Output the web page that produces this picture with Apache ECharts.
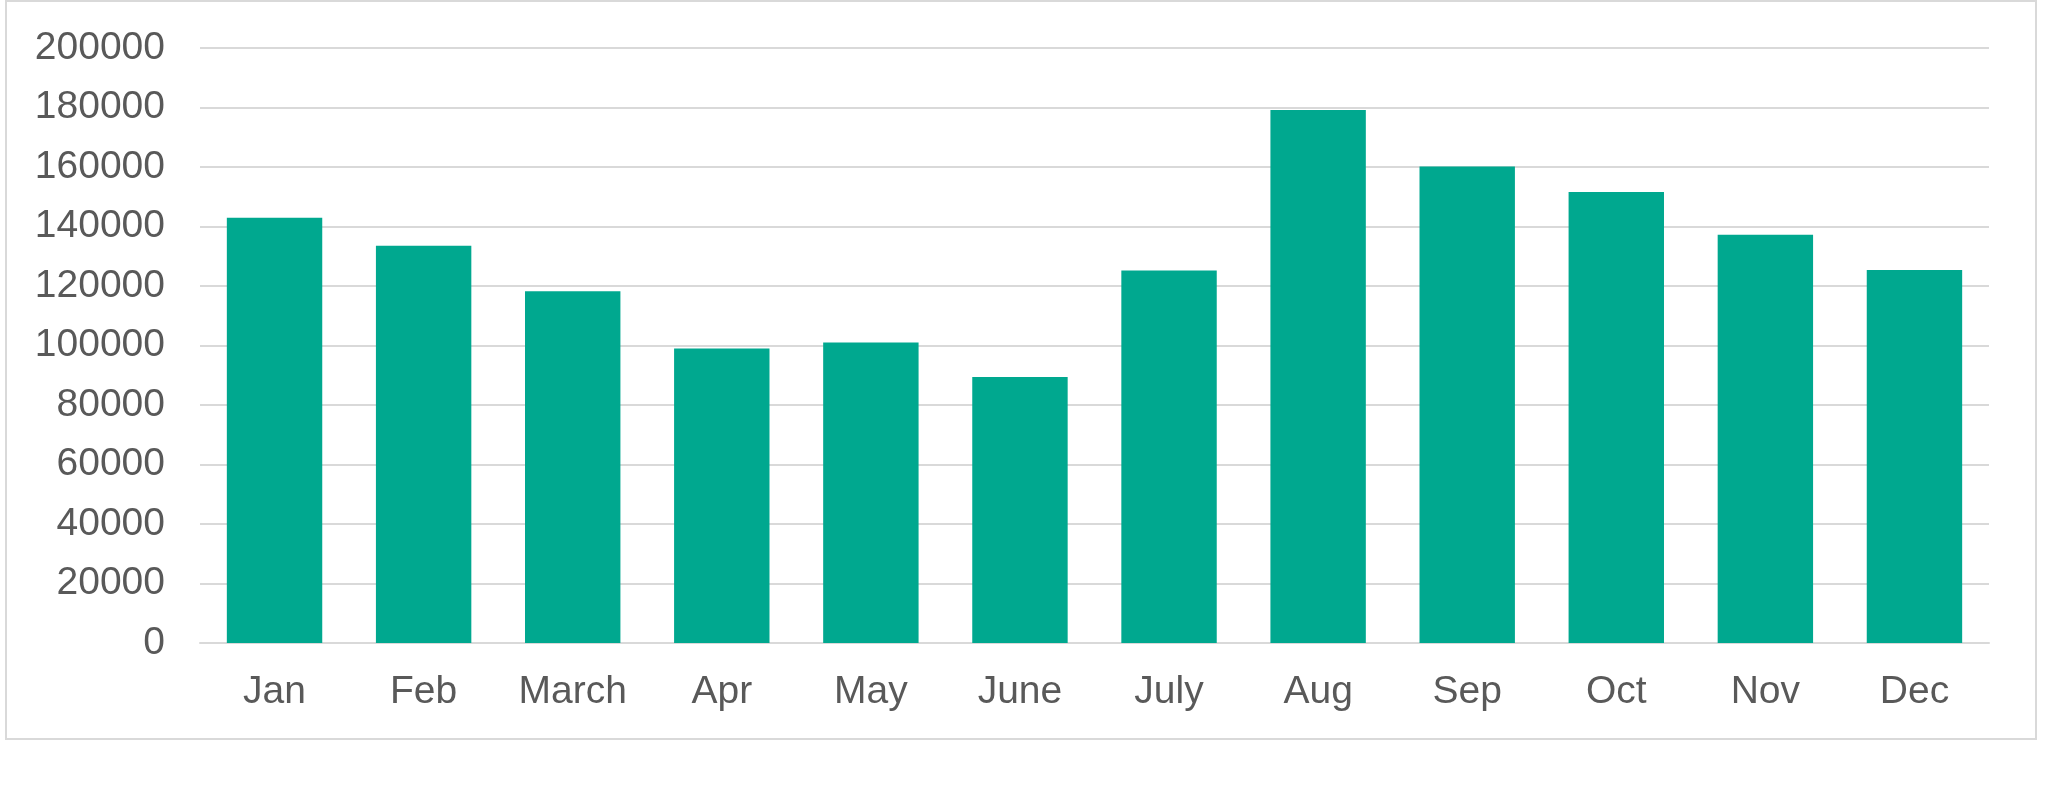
<!DOCTYPE html>
<html>
<head>
<meta charset="utf-8">
<script src="https://cdn.jsdelivr.net/npm/echarts@6/dist/echarts.min.js"></script>
<style>
html,body{margin:0;padding:0;background:#fff;}
#chart{width:2048px;height:786px;}
</style>
</head>
<body>
<div id="chart"></div>
<script>
const categories = ['Jan','Feb','March','Apr','May','June','July','Aug','Sep','Oct','Nov','Dec'];
const values = [142900, 133500, 118200, 99000, 101000, 89400, 125200, 179200, 160200, 151600, 137200, 125400];
const yMin = 0, yMax = 200000, yInterval = 20000;

const chart = echarts.init(document.getElementById('chart'), null, {renderer:'canvas'});
chart.setOption({
  animation:false,
  backgroundColor:'#ffffff',
  graphic:[{
    type:'rect',
    shape:{x:6,y:1,width:2030,height:738},
    style:{fill:'none',stroke:'#d9d9d9',lineWidth:2},
    silent:true
  }],
  grid:{left:200,right:59,top:48,bottom:143,containLabel:false},
  xAxis:{
    type:'category',
    data:categories,
    axisLine:{show:true,lineStyle:{color:'#d9d9d9',width:2}},
    axisTick:{show:false},
    axisLabel:{color:'#595959',fontSize:39,fontFamily:'Liberation Sans, Arial, sans-serif',margin:30}
  },
  yAxis:{
    type:'value',
    min:yMin,max:yMax,interval:yInterval,
    axisLine:{show:false},
    axisTick:{show:false},
    splitLine:{lineStyle:{color:'#d9d9d9',width:2}},
    axisLabel:{color:'#595959',fontSize:39,fontFamily:'Liberation Sans, Arial, sans-serif',margin:35,
      formatter:function(v){return String(v);}}
  },
  series:[{
    type:'bar',
    data:values,
    barWidth:'64%',
    itemStyle:{color:'#00A88F'}
  }]
});
</script>
</body>
</html>
